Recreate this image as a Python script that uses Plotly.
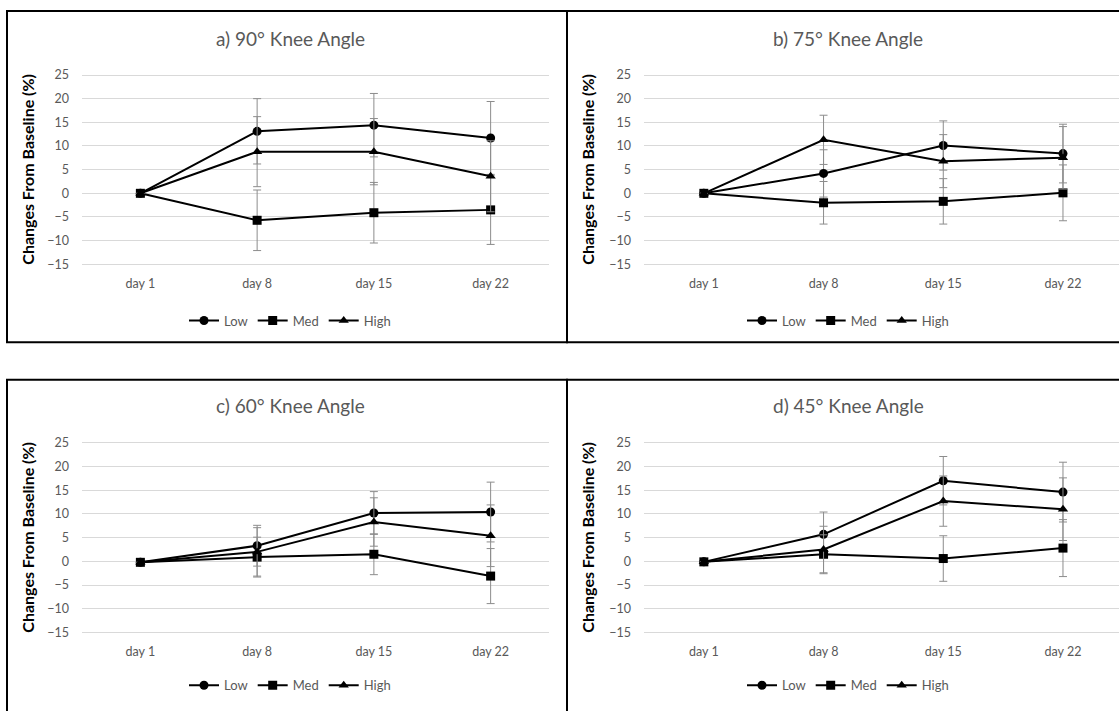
import plotly.graph_objects as go

days = ["day 1", "day 8", "day 15", "day 22"]
series_names = ["Low", "Med", "High"]
panel_titles = ["a) 90° Knee Angle", "b) 75° Knee Angle", "c) 60° Knee Angle", "d) 45° Knee Angle"]
y_tick_vals = [-15, -10, -5, 0, 5, 10, 15, 20, 25]

a_low = [0, 13.1, 14.4, 11.7]
a_low_err = [0, 6.9, 6.7, 7.7]
a_med = [0, -5.7, -4.1, -3.5]
a_med_err = [0, 6.4, 6.4, 7.3]
a_high = [0, 8.8, 8.8, 3.6]
a_high_err = [0, 7.4, 7.0, 7.5]

b_low = [0, 4.2, 10.1, 8.4]
b_low_err = [0, 5.0, 5.2, 6.2]
b_med = [0, -2.0, -1.7, 0.1]
b_med_err = [0, 4.5, 4.8, 5.9]
b_high = [0, 11.3, 6.8, 7.5]
b_high_err = [0, 5.2, 5.6, 6.6]

c_low = [-0.2, 3.3, 10.2, 10.4]
c_low_err = [0, 4.3, 4.5, 6.3]
c_med = [-0.2, 0.9, 1.5, -3.1]
c_med_err = [0, 4.2, 4.3, 5.8]
c_high = [-0.2, 2.0, 8.3, 5.4]
c_high_err = [0, 5.1, 5.1, 6.5]

d_low = [-0.1, 5.7, 17.0, 14.6]
d_low_err = [0, 4.7, 5.1, 6.3]
d_med = [-0.1, 1.5, 0.6, 2.8]
d_med_err = [0, 4.1, 4.8, 6.0]
d_high = [-0.1, 2.5, 12.7, 11.0]
d_high_err = [0, 4.9, 5.3, 6.6]

panel_data = [
    [(a_low, a_low_err), (a_med, a_med_err), (a_high, a_high_err)],
    [(b_low, b_low_err), (b_med, b_med_err), (b_high, b_high_err)],
    [(c_low, c_low_err), (c_med, c_med_err), (c_high, c_high_err)],
    [(d_low, d_low_err), (d_med, d_med_err), (d_high, d_high_err)],
]

W, H = 1119, 711
def fx(px):
    return px / W
def fy(py):
    return 1 - py / H

symbols = ["circle", "square", "triangle-up"]
FONT = "Lato"
GRAY = "#595959"

panels = [
    dict(x0=82, x1=549, xr=3.5, ytop=71, ybot=263, box=(7, 6, 567, 342), cx=290, title_y=34, axis_x=28, leg_y=320),
    dict(x0=644, x1=1119, xr=3.468, ytop=71, ybot=263, box=(567, 6, 1130, 342), cx=848, title_y=34, axis_x=588, leg_y=320),
    dict(x0=82, x1=549, xr=3.5, ytop=444, ybot=636.5, box=(7, 380, 567, 730), cx=290, title_y=406, axis_x=28, leg_y=690),
    dict(x0=644, x1=1119, xr=3.468, ytop=444, ybot=636.5, box=(567, 380, 1130, 730), cx=848, title_y=406, axis_x=588, leg_y=690),
]

fig = go.Figure()
layout = dict(
    width=W, height=H, margin=dict(l=0, r=0, t=0, b=0),
    plot_bgcolor="white", paper_bgcolor="white",
    font=dict(family=FONT, color=GRAY, size=12),
    shapes=[], annotations=[],
)

pad = 0.5
for i, p in enumerate(panels):
    n = i + 1
    sfx = "" if n == 1 else str(n)
    legname = "legend" if n == 1 else f"legend{n}"
    for j, name in enumerate(series_names):
        vals, errs = panel_data[i][j]
        fig.add_trace(go.Scatter(
            x=days, y=vals, name=name, mode="lines+markers",
            xaxis=f"x{sfx}", yaxis=f"y{sfx}", legend=legname,
            line=dict(color="black", width=2),
            marker=dict(symbol=symbols[j], size=9, color="black"),
            error_y=dict(type="data", array=errs, visible=True, color="#8c8c8c", thickness=1, width=4),
            cliponaxis=False,
        ))
    ppu = (p["ybot"] - p["ytop"]) / 40.0
    layout[f"xaxis{sfx}"] = dict(
        domain=[fx(p["x0"]), fx(p["x1"])], anchor=f"y{sfx}",
        type="category", range=[-0.5, p["xr"]],
        showgrid=False, zeroline=False, showline=False, ticks="",
        tickfont=dict(family=FONT, size=12.5, color=GRAY), ticklen=0, ticklabelstandoff=8,
    )
    layout[f"yaxis{sfx}"] = dict(
        domain=[fy(p["ybot"] + pad * ppu), fy(p["ytop"] - pad * ppu)], anchor=f"x{sfx}",
        range=[-15 - pad, 25 + pad], tickvals=y_tick_vals,
        showgrid=True, gridcolor="#d9d9d9", gridwidth=1,
        zeroline=False, showline=False, ticks="", ticklabelstandoff=12,
        tickfont=dict(family=FONT, size=12.5, color=GRAY),
    )
    layout[legname] = dict(
        orientation="h", x=fx(p["cx"]), y=fy(p["leg_y"]), xanchor="center", yanchor="middle",
        font=dict(family=FONT, size=13, color=GRAY), bgcolor="rgba(0,0,0,0)",
        itemwidth=30, tracegroupgap=0,
    )
    bx0, by0, bx1, by1 = p["box"]
    layout["shapes"].append(dict(
        type="rect", xref="paper", yref="paper",
        x0=fx(bx0), x1=fx(bx1), y0=fy(by1), y1=fy(by0),
        line=dict(color="black", width=2), fillcolor="rgba(0,0,0,0)", layer="above",
    ))
    layout["annotations"].append(dict(
        text=panel_titles[i], xref="paper", yref="paper", x=fx(p["cx"]), y=fy(p["title_y"]),
        xanchor="center", yanchor="middle", showarrow=False,
        font=dict(family=FONT, size=19, color=GRAY),
    ))
    layout["annotations"].append(dict(
        text="<b>Changes From Baseline (%)</b>", xref="paper", yref="paper",
        x=fx(p["axis_x"]), y=fy((p["ytop"] + p["ybot"]) / 2), textangle=-90,
        xanchor="center", yanchor="middle", showarrow=False,
        font=dict(family=FONT, size=16, color="black"),
    ))

fig.update_layout(**layout)
fig.write_html(
    "out.html",
    config={"displayModeBar": False},
    post_script="document.body.style.margin='0';document.body.style.padding='0';",
)
